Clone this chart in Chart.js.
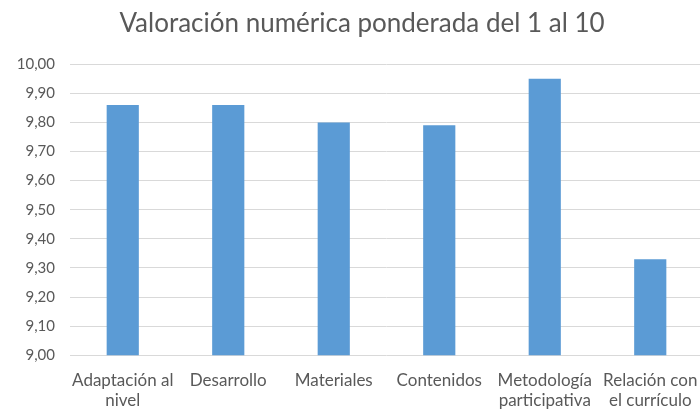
<!DOCTYPE html>
<html>
<head>
<meta charset="utf-8">
<script src="https://cdn.jsdelivr.net/npm/chart.js@4"></script>
<style>
  html, body { margin: 0; padding: 0; background: #fff; overflow: hidden; }
  #wrap { width: 724px; height: 418px; }
</style>
</head>
<body>
<div id="wrap"><canvas id="grafico"></canvas></div>
<script>
// datos
const categorias = [
  ['Adaptación al', 'nivel'],
  'Desarrollo',
  'Materiales',
  'Contenidos',
  ['Metodología', 'participativa'],
  ['Relación con', 'el currículo']
];
const valores = [9.86, 9.86, 9.80, 9.79, 9.95, 9.33];
const ejeMin = 9;
const ejeMax = 10;
const paso = 0.1;

const gris = '#595959';

// centra el titulo un poco mas a la derecha, como en el original
const moverTitulo = {
  id: 'moverTitulo',
  afterLayout: function(chart) {
    const t = chart.titleBlock;
    if (t) { t.left += 9; t.right += 9; }
  }
};

new Chart(document.getElementById('grafico'), {
  type: 'bar',
  data: {
    labels: categorias,
    datasets: [{
      label: 'Valoración',
      data: valores,
      backgroundColor: '#5b9bd5',
      categoryPercentage: 1,
      barPercentage: 0.305
    }]
  },
  plugins: [moverTitulo],
  options: {
    responsive: true,
    maintainAspectRatio: false,
    animation: false,
    layout: { padding: { left: 3, right: 21, top: 8, bottom: 0 } },
    plugins: {
      legend: { display: false },
      tooltip: { enabled: false },
      title: {
        display: true,
        text: 'Valoración numérica ponderada del 1 al 10',
        color: gris,
        font: { family: 'Lato', size: 26, weight: 'normal' },
        padding: { top: 0, bottom: 25 }
      }
    },
    scales: {
      x: {
        grid: { display: false },
        border: { display: false },
        ticks: {
          color: gris,
          font: { family: 'Lato', size: 17 },
          maxRotation: 0,
          autoSkip: false,
          padding: 7
        }
      },
      y: {
        min: ejeMin,
        max: ejeMax,
        afterFit: function(scale) { scale.width = 67; },
        grid: { color: '#d9d9d9', drawTicks: false },
        border: { display: false },
        ticks: {
          stepSize: paso,
          color: gris,
          font: { family: 'Lato', size: 15 },
          padding: 15,
          callback: function(value) {
            return value.toFixed(2).replace('.', ','); // coma decimal
          }
        }
      }
    }
  }
});
</script>
</body>
</html>
